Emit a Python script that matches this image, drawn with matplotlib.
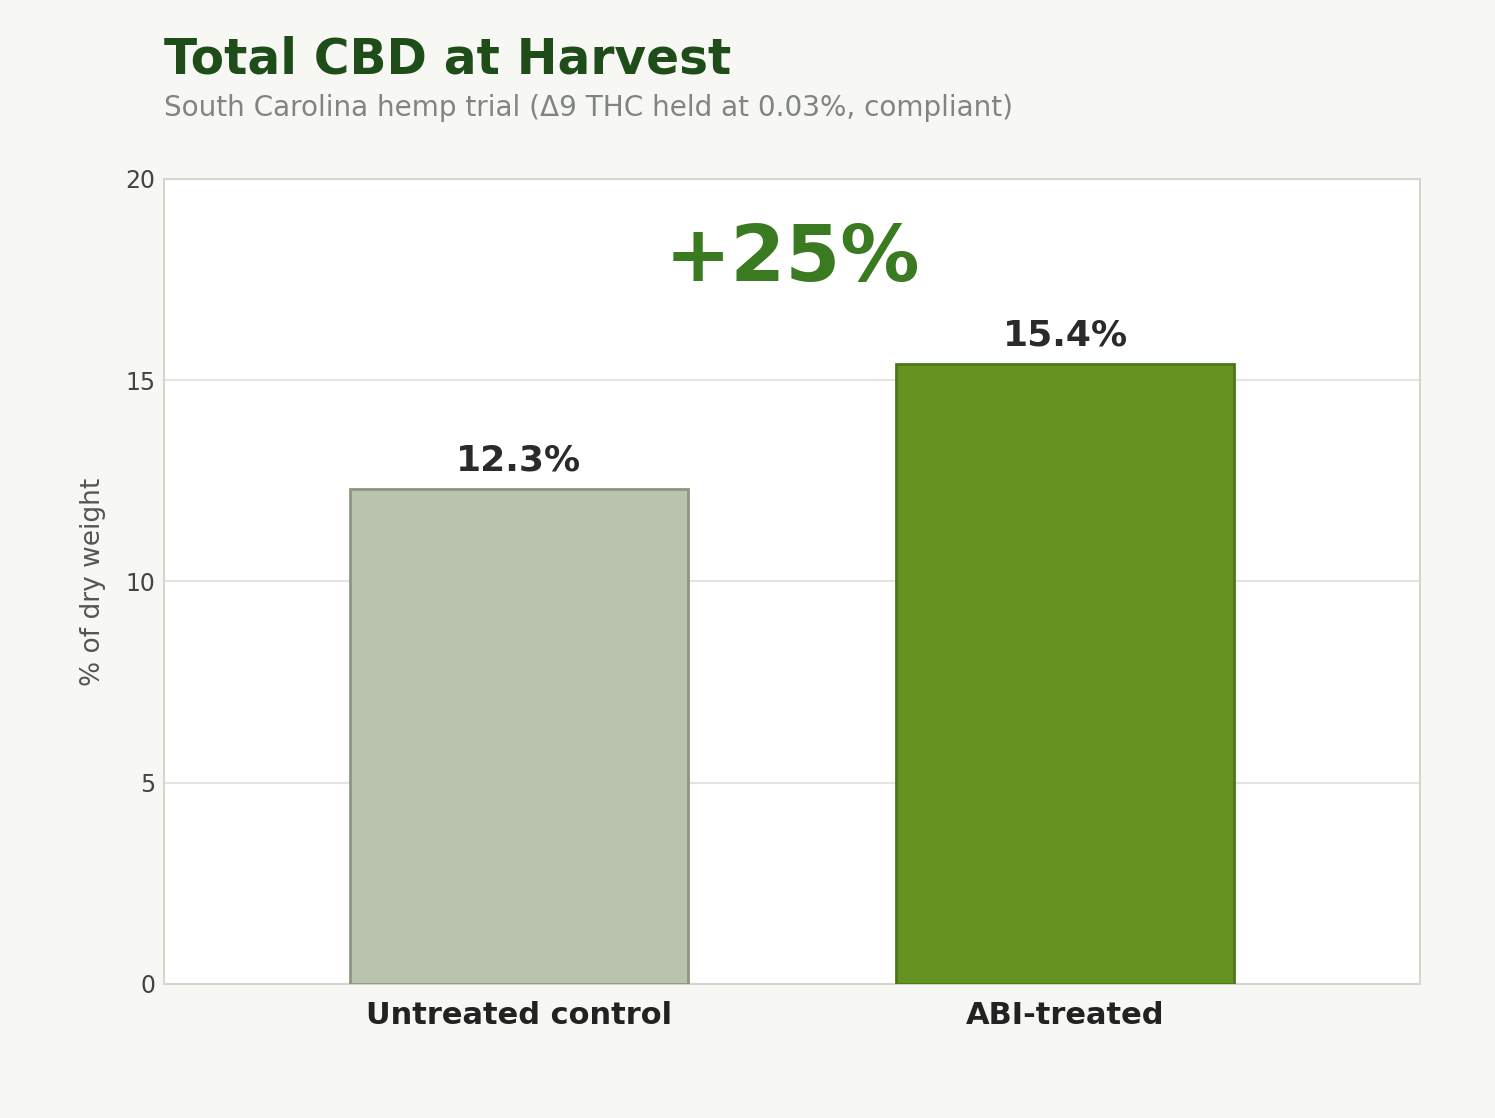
import matplotlib.pyplot as plt
import numpy as np

groups = ['Untreated control', 'ABI-treated']
cbd = [12.3, 15.4]
uplift_label = '+25%'

bar_colors = ['#bac3ad', '#659322']
edge_colors = ['#8c9680', '#4f7519']

fig = plt.figure(figsize=(14.95, 11.18), dpi=100, facecolor='#f7f8f3')
ax = fig.add_axes([0.1097, 0.1199, 0.8401, 0.7200])
ax.set_facecolor('white')

x = np.arange(len(groups))
bars = ax.bar(x, cbd, width=0.62, color=bar_colors, edgecolor=edge_colors,
              linewidth=2, zorder=3)

for bar, v in zip(bars, cbd):
    ax.annotate(f'{v}%', (bar.get_x() + bar.get_width() / 2, v),
                xytext=(0, 8.5), textcoords='offset points',
                ha='center', va='bottom', fontsize=26, weight='bold',
                color='#2a2a2a')

ax.text(0.5, 18.0, uplift_label, transform=ax.get_yaxis_transform(),
        ha='center', va='center', fontsize=57, weight='bold', color='#3a7a20')

ax.set_xlim(-0.65, 1.65)
ax.set_ylim(0, 20)
ax.set_yticks([0, 5, 10, 15, 20])
ax.set_xticks(x)
ax.set_xticklabels(groups, fontsize=22, weight='bold', color='#222222')
ax.tick_params(axis='x', length=0, pad=12)
ax.tick_params(axis='y', length=0, pad=6, labelsize=17, labelcolor='#444444')
ax.set_ylabel('% of dry weight', fontsize=19, color='#555555', labelpad=14)

ax.yaxis.grid(True, color='#e5e5e0', linewidth=1.5, zorder=0)
ax.set_axisbelow(True)
for s in ax.spines.values():
    s.set_color('#d5d6cf')
    s.set_linewidth(1.5)

fig.text(0.1097, 0.934, 'Total CBD at Harvest', fontsize=35, weight='bold',
         color='#1f4d1a', ha='left', va='baseline')
fig.text(0.1097, 0.896, 'South Carolina hemp trial (\u03949 THC held at 0.03%, compliant)',
         fontsize=20.1, color='#808580', ha='left', va='baseline')

plt.savefig('out.png', dpi=100, facecolor=fig.get_facecolor())
